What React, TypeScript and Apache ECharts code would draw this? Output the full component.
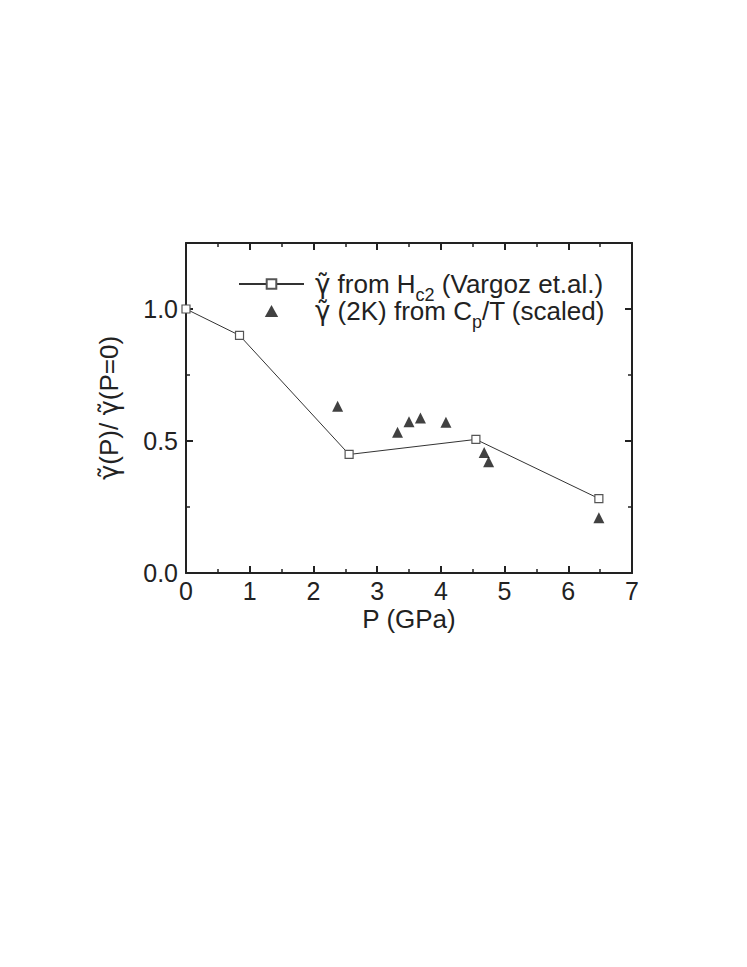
import React, { useEffect, useRef } from "react";
import * as echarts from "echarts";

const hc2P = [0, 0.84, 2.56, 4.55, 6.48];
const hc2Gamma = [1.0, 0.9, 0.449, 0.506, 0.282];
const cpP = [2.38, 3.32, 3.5, 3.68, 4.08, 4.68, 4.75, 6.48];
const cpGamma = [0.632, 0.533, 0.573, 0.587, 0.571, 0.456, 0.421, 0.209];
const yTicks = [0, 0.5, 1.0];

const FONT = "Liberation Sans, Arial, Helvetica, sans-serif";
const GFONT = "DejaVu Sans, sans-serif";
const G = "\u03B3\u0303";
const INK = "#222";

export default function App() {
  const ref = useRef<HTMLDivElement>(null);
  useEffect(() => {
    if (!ref.current) return;
    const chart = echarts.init(ref.current, null, { renderer: "svg" });
    const axisCommon = {
      axisLine: { show: true, onZero: false, lineStyle: { color: INK, width: 2 } },
      axisTick: { show: true, inside: true, length: 7, lineStyle: { color: INK, width: 2 } },
      minorTick: { show: true, splitNumber: 2, length: 4, lineStyle: { color: INK, width: 1.5 } },
      splitLine: { show: false },
    };
    const rich = {
      n: { fontSize: 26, lineHeight: 26, fontFamily: FONT, color: INK, verticalAlign: "top" },
      g: { fontSize: 26, fontFamily: GFONT, color: INK },
      gl: { fontSize: 26, lineHeight: 26, fontFamily: GFONT, color: INK, verticalAlign: "top", padding: [0, 0, 0, 6] },
      sub: { fontSize: 18, lineHeight: 12, fontFamily: FONT, color: INK, verticalAlign: "top", padding: [15, 0, 0, 0] },
    };
    chart.setOption({
      animation: false,
      backgroundColor: "#fff",
      textStyle: { fontFamily: FONT },
      grid: { left: 178, top: 235, right: 107, bottom: 386, containLabel: false },
      legend: {
        left: 225,
        top: 258,
        orient: "vertical",
        itemWidth: 65,
        itemHeight: 12,
        itemGap: -6,
        textStyle: { fontFamily: FONT, fontSize: 26, color: INK, rich },
        formatter: (name: string) =>
          name === "hc2"
            ? `{gl|${G}}{n| from H}{sub|c2}{n| (Vargoz et.al.)}`
            : `{gl|${G}}{n| (2K) from C}{sub|p}{n|/T (scaled)}`,
        data: [
          { name: "hc2" },
          { name: "cp", icon: "path://M5,0 L10,9 L0,9 Z" },
        ],
      },
      xAxis: [
        {
          type: "value",
          min: 0,
          max: 7,
          interval: 1,
          name: "P (GPa)",
          nameLocation: "middle",
          nameGap: 33,
          nameTextStyle: { fontFamily: FONT, fontSize: 26, color: INK },
          axisLabel: { fontFamily: FONT, fontSize: 25, color: INK, margin: 5 },
          ...axisCommon,
        },
        {
          type: "value",
          position: "top",
          min: 0,
          max: 7,
          interval: 1,
          axisLabel: { show: false },
          ...axisCommon,
        },
      ],
      yAxis: [
        {
          type: "value",
          min: 0,
          max: 1.25,
          interval: 0.5,
          name: `{g|${G}}{n|(P)/ }{g|${G}}{n|(P=0)}`,
          nameLocation: "middle",
          nameGap: 64,
          nameTextStyle: { fontFamily: FONT, fontSize: 26, color: INK, rich },
          axisLabel: {
            fontFamily: FONT,
            fontSize: 25,
            color: INK,
            margin: 8,
            formatter: (v: number) => (yTicks.includes(v) ? v.toFixed(1) : ""),
          },
          ...axisCommon,
        },
        {
          type: "value",
          position: "right",
          min: 0,
          max: 1.25,
          interval: 0.5,
          axisLabel: { show: false },
          ...axisCommon,
        },
      ],
      series: [
        {
          name: "hc2",
          type: "line",
          data: hc2P.map((p, i) => [p, hc2Gamma[i]]),
          symbol: "rect",
          symbolSize: 8,
          showAllSymbol: true,
          lineStyle: { color: "#333", width: 1 },
          itemStyle: { color: "#fff", borderColor: "#555", borderWidth: 1.2 },
          z: 3,
        },
        {
          name: "cp",
          type: "scatter",
          data: cpP.map((p, i) => [p, cpGamma[i]]),
          symbol: "triangle",
          symbolSize: 11,
          itemStyle: { color: "#111" },
          z: 4,
        },
      ],
    });
    return () => chart.dispose();
  }, []);
  return <div ref={ref} style={{ width: 731, height: 951 }} />;
}
